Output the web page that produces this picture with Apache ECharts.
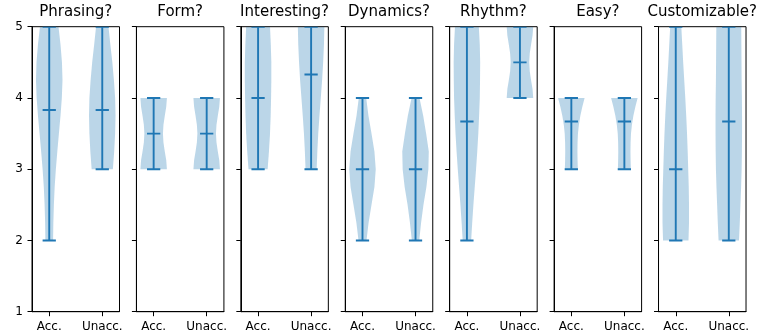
<!DOCTYPE html>
<html>
<head>
<meta charset="utf-8">
<script src="https://cdn.jsdelivr.net/npm/echarts@6/dist/echarts.min.js"></script>
<style>html,body{margin:0;padding:0;background:#fff;}#chart{width:759px;height:335px;}</style>
</head>
<body>
<div id="chart"></div>
<script>
const questions = ['Phrasing?', 'Form?', 'Interesting?', 'Dynamics?', 'Rhythm?', 'Easy?', 'Customizable?'];
const groupLabels = ['Acc.', 'Unacc.'];
const groupPositions = [1, 2];
const yTickValues = [1, 2, 3, 4, 5];

const accMins = [2, 3, 3, 2, 2, 3, 2];
const accMaxs = [5, 4, 5, 4, 5, 4, 5];
const accMeans = [3.83, 3.5, 4.0, 3.0, 3.67, 3.67, 3.0];
const unaccMins = [3, 3, 3, 2, 4, 3, 2];
const unaccMaxs = [5, 4, 5, 4, 5, 4, 5];
const unaccMeans = [3.83, 3.5, 4.33, 3.0, 4.5, 3.67, 3.67];

// violin outline: [value, relative half-width]
const accProfiles = [
  [[2,0.29],[2.25,0.31],[2.5,0.35],[2.75,0.41],[3,0.5],[3.25,0.61],[3.5,0.73],[3.75,0.85],[4,0.95],[4.25,1.0],[4.5,0.96],[4.75,0.85],[5,0.7]],
  [[3,1.0],[3.125,0.95],[3.25,0.84],[3.375,0.74],[3.5,0.7],[3.625,0.74],[3.75,0.84],[3.875,0.95],[4,1.0]],
  [[3,0.72],[3.25,0.82],[3.5,0.9],[3.75,0.95],[4,0.98],[4.25,1.0],[4.5,1.0],[4.75,0.96],[5,0.9]],
  [[2,0.3],[2.25,0.46],[2.5,0.68],[2.75,0.9],[3,1.0],[3.25,0.9],[3.5,0.68],[3.75,0.45],[4,0.28]],
  [[2,0.32],[2.25,0.4],[2.5,0.49],[2.75,0.59],[3,0.69],[3.25,0.78],[3.5,0.86],[3.75,0.92],[4,0.97],[4.25,0.99],[4.5,1.0],[4.75,0.97],[5,0.9]],
  [[3,0.49],[3.125,0.47],[3.25,0.46],[3.375,0.47],[3.5,0.5],[3.625,0.57],[3.75,0.68],[3.875,0.83],[4,1.0]],
  [[2,0.96],[2.25,1.0],[2.5,1.0],[2.75,0.98],[3,0.94],[3.25,0.9],[3.5,0.85],[3.75,0.79],[4,0.72],[4.25,0.64],[4.5,0.56],[4.75,0.49],[5,0.42]]
];
const unaccProfiles = [
  [[3,0.8],[3.25,0.9],[3.5,0.97],[3.75,1.0],[4,0.97],[4.25,0.88],[4.5,0.76],[4.75,0.61],[5,0.47]],
  [[3,1.0],[3.125,0.95],[3.25,0.84],[3.375,0.74],[3.5,0.7],[3.625,0.74],[3.75,0.84],[3.875,0.95],[4,1.0]],
  [[3,0.42],[3.25,0.47],[3.5,0.54],[3.75,0.63],[4,0.73],[4.25,0.83],[4.5,0.91],[4.75,0.97],[5,1.0]],
  [[2,0.28],[2.25,0.42],[2.5,0.6],[2.75,0.82],[3,0.97],[3.25,1.0],[3.5,0.8],[3.75,0.58],[4,0.3]],
  [[4,1.0],[4.125,0.95],[4.25,0.84],[4.375,0.74],[4.5,0.7],[4.625,0.74],[4.75,0.84],[4.875,0.95],[5,1.0]],
  [[3,0.49],[3.125,0.47],[3.25,0.46],[3.375,0.47],[3.5,0.5],[3.625,0.57],[3.75,0.68],[3.875,0.83],[4,1.0]],
  [[2,0.77],[2.25,0.83],[2.5,0.88],[2.75,0.93],[3,0.97],[3.25,0.99],[3.5,1.0],[3.75,1.0],[4,0.99],[4.25,0.97],[4.5,0.96],[4.75,0.95],[5,0.94]]
];

const mins = [accMins, unaccMins];
const maxs = [accMaxs, unaccMaxs];
const means = [accMeans, unaccMeans];
const profiles = [accProfiles, unaccProfiles];

const LINE = '#1f77b4';
const FILL = 'rgba(31,119,180,0.3)';
const FONT = 'DejaVu Sans';
const HALF_BODY = 0.25, HALF_CAP = 0.125;

const panelLeft0 = 32, panelPitch = 104.42, panelWidth = 87.5, panelTop = 26.7, panelHeight = 285;

const grids = [], xAxes = [], yAxes = [], titles = [], series = [];
questions.forEach((q, i) => {
  const left = panelLeft0 + i * panelPitch;
  grids.push({left: left, top: panelTop, width: panelWidth, height: panelHeight,
    show: true, borderColor: '#000', borderWidth: 1, backgroundColor: 'transparent', containLabel: false});
  xAxes.push({type: 'value', gridIndex: i, min: 0.675, max: 2.325,
    splitLine: {show: false},
    axisLine: {show: true, lineStyle: {color: '#000', width: 1}},
    axisTick: {show: true, customValues: groupPositions, length: 4.5, lineStyle: {color: '#000', width: 1}},
    axisLabel: {show: true, customValues: groupPositions, margin: 9,
      formatter: v => groupLabels[groupPositions.indexOf(v)] || '',
      color: '#000', fontFamily: FONT, fontSize: 12}
  });
  yAxes.push({type: 'value', gridIndex: i, min: 1, max: 5, interval: 1,
    splitLine: {show: false},
    axisLine: {show: true, lineStyle: {color: '#000', width: 1}},
    axisTick: {show: true, length: 4.5, lineStyle: {color: '#000', width: 1}},
    axisLabel: {show: i === 0, margin: 9, color: '#000', fontFamily: FONT, fontSize: 12}
  });
  titles.push({text: q, left: left + panelWidth / 2, top: 5, textAlign: 'center', padding: 0,
    textStyle: {fontFamily: FONT, fontSize: 15, fontWeight: 'normal', color: '#000'}});
  series.push({type: 'custom', xAxisIndex: i, yAxisIndex: i, clip: true,
    data: groupPositions.map((pos, g) => [pos, i, g]),
    renderItem: function (params, api) {
      const pos = api.value(0), p = api.value(1), g = api.value(2);
      const prof = profiles[g][p];
      const right = prof.map(d => api.coord([pos + HALF_BODY * d[1], d[0]]));
      const leftSide = prof.slice().reverse().map(d => api.coord([pos - HALF_BODY * d[1], d[0]]));
      const lo = mins[g][p], hi = maxs[g][p], mu = means[g][p];
      const line = (x1, y1, x2, y2) => {
        const a = api.coord([x1, y1]), b = api.coord([x2, y2]);
        return {type: 'line', shape: {x1: a[0], y1: a[1], x2: b[0], y2: b[1]},
          style: {stroke: LINE, lineWidth: 1.9}};
      };
      return {type: 'group', children: [
        {type: 'polygon', shape: {points: right.concat(leftSide)}, style: {fill: FILL, stroke: null}},
        line(pos, lo, pos, hi),
        line(pos - HALF_CAP, lo, pos + HALF_CAP, lo),
        line(pos - HALF_CAP, hi, pos + HALF_CAP, hi),
        line(pos - HALF_CAP, mu, pos + HALF_CAP, mu)
      ]};
    }
  });
});

const chart = echarts.init(document.getElementById('chart'), null, {renderer: 'canvas'});
chart.setOption({
  animation: false,
  backgroundColor: '#fff',
  title: titles,
  grid: grids,
  xAxis: xAxes,
  yAxis: yAxes,
  series: series
});
</script>
</body>
</html>
